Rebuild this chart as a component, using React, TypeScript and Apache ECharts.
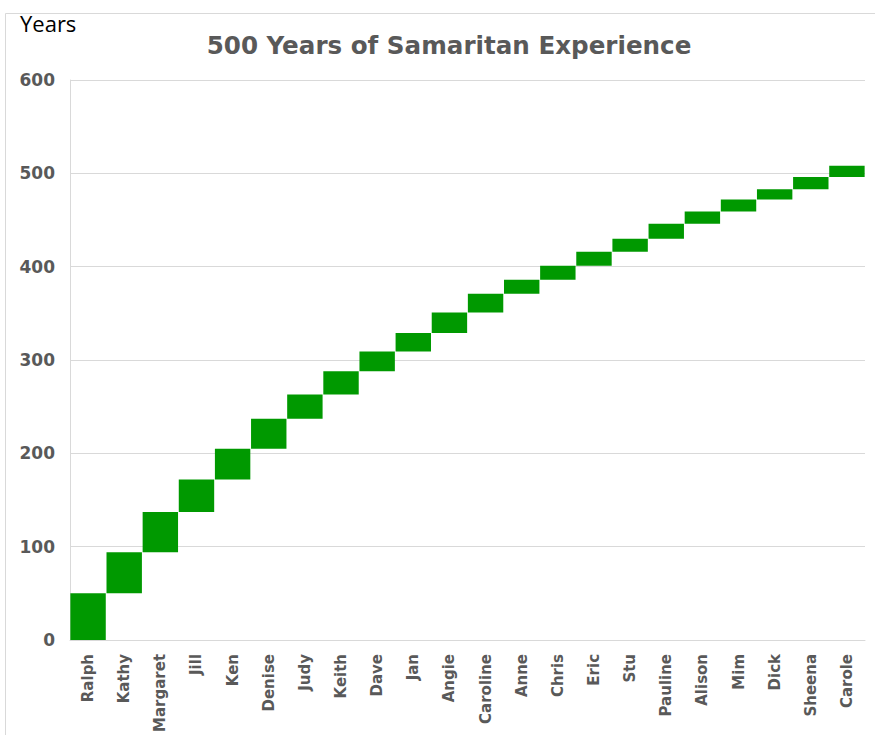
import React, { useEffect, useRef } from "react";
import * as echarts from "echarts";

const names = ["Ralph","Kathy","Margaret","Jill","Ken","Denise","Judy","Keith","Dave","Jan","Angie","Caroline","Anne","Chris","Eric","Stu","Pauline","Alison","Mim","Dick","Sheena","Carole"];
const years = [50,44,43,35,33,32,26,25,21,20,22,20,15,15,15,14,16,13,13,11,13,12];
const yTicks = [0,100,200,300,400,500,600];

export default function App() {
  const ref = useRef<HTMLDivElement>(null);
  useEffect(() => {
    const chart = echarts.init(ref.current!, null, { renderer: "svg" });
    const base: number[] = [];
    let acc = 0;
    for (const v of years) { base.push(acc); acc += v; }
    chart.setOption({
      animation: false,
      backgroundColor: "#fff",
      title: {
        text: "500 Years of Samaritan Experience",
        left: 444, top: 28, textAlign: "center",
        textStyle: { fontFamily: "DejaVu Sans", fontWeight: "bold", fontSize: 24.6, color: "#595959" },
      },
      graphic: [
        { type: "rect", shape: { x: 5.5, y: 13.5, width: 880, height: 740 }, style: { fill: "none", stroke: "#d9d9d9", lineWidth: 1 }, silent: true },
        { type: "text", left: 20, top: 12, style: { text: "Years", fontFamily: "Open Sans", fontSize: 22, fill: "#000" } },
      ],
      grid: { left: 70, right: 10, top: 80, bottom: 94 },
      xAxis: {
        type: "category",
        data: names,
        axisLine: { lineStyle: { color: "#d9d9d9" } },
        axisTick: { show: false },
        axisLabel: { rotate: 90, margin: 14, fontFamily: "DejaVu Sans", fontWeight: "bold", fontSize: 15, color: "#595959", interval: 0 },
      },
      yAxis: {
        type: "value", min: yTicks[0], max: yTicks[yTicks.length - 1], interval: 100,
        axisLine: { show: true, lineStyle: { color: "#d9d9d9" } },
        axisTick: { show: false },
        splitLine: { lineStyle: { color: "#d9d9d9" } },
        axisLabel: { margin: 15, fontFamily: "DejaVu Sans", fontWeight: "bold", fontSize: 17, color: "#595959" },
      },
      series: [
        { type: "bar", stack: "w", data: base, itemStyle: { color: "transparent" }, barCategoryGap: "2%", silent: true },
        { type: "bar", stack: "w", data: years, itemStyle: { color: "#009900" }, barCategoryGap: "2%" },
      ],
    });
    return () => chart.dispose();
  }, []);
  return <div ref={ref} style={{ position: "absolute", left: 0, top: 0, width: 875, height: 735 }} />;
}
